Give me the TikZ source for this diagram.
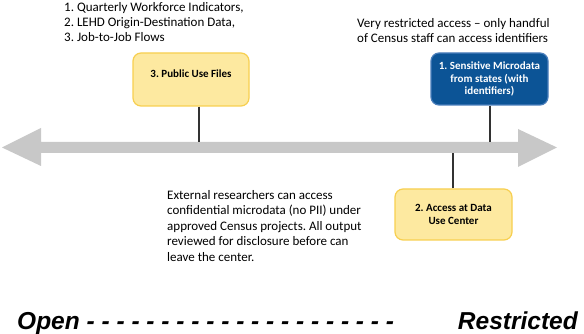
\documentclass[tikz,border=0pt]{standalone}
\usepackage{fontspec}
\setmainfont{Carlito}
\newfontfamily\scalefont{Liberation Sans}
\definecolor{paleyellow}{RGB}{253,233,160}
\definecolor{goldline}{RGB}{247,207,80}
\definecolor{deepblue}{RGB}{12,84,150}
\definecolor{blueline}{RGB}{74,126,187}
\definecolor{arrowgray}{RGB}{200,200,200}
\definecolor{linegray}{RGB}{50,50,50}
\frenchspacing
\begin{document}
\begin{tikzpicture}[x=1pt,y=1pt,
  boxbase/.style={rounded corners=8pt, line width=1.2pt, minimum width=116pt,
    minimum height=52pt, inner sep=0pt, align=center,
    font=\bfseries\fontsize{11}{12.5}\selectfont},
  pale/.style={boxbase, fill=paleyellow, draw=goldline},
  deep/.style={boxbase, fill=deepblue, draw=blueline, text=white},
  boxlabel/.style={font=\bfseries\fontsize{11}{12.5}\selectfont, align=center, inner sep=0pt},
  note/.style={font=\fontsize{13}{15}\selectfont, align=left, anchor=north west, inner sep=0pt},
  link/.style={draw=linegray, line width=1.1pt},
  scaletext/.style={font=\scalefont\bfseries\itshape\fontsize{24.5}{28}\selectfont, inner sep=0pt}]
\useasboundingbox (0,0) rectangle (584,334);

% double-headed scale arrow
\fill[arrowgray] (2,186.5) -- (41,206) -- (41,192) -- (518,192) -- (518,205)
  -- (557,186.5) -- (518,167) -- (518,181) -- (41,181) -- (41,168) -- cycle;
\coordinate (pubjoin) at (199,192);
\coordinate (sensjoin) at (490,192);
\coordinate (accjoin) at (453,181);

% boxes
\node[pale, minimum width=116pt, minimum height=53pt] (pub) at (191,254.5) {};
\node[boxlabel] (publabel) at (191,260) {3. Public Use Files};
\node[deep, minimum width=117pt, minimum height=52pt] (sens) at (489.5,255)
  {1. Sensitive Microdata\\from states (with\\identifiers)};
\node[pale, minimum width=117pt, minimum height=51pt] (acc) at (453.5,119.5)
  {2. Access at Data\\Use Center};

% connectors to the scale
\draw[link] (pub.south -| pubjoin) -- (pubjoin);
\draw[link] (sens.south -| sensjoin) -- (sensjoin);
\draw[link] (acc.north -| accjoin) -- (accjoin);

% notes
\node[note] (pubnote) at (64,332)
  {1. Quarterly Workforce Indicators,\\2. LEHD Origin-Destination Data,\\3. Job-to-Job Flows};
\node[note] (sensnote) at (357,316)
  {Very restricted access – only handful\\of Census staff can access identifiers};
\node[note, font=\fontsize{13}{15.5}\selectfont] (accnote) at (167,144)
  {External researchers can access\\confidential microdata (no PII) under\\approved Census projects. All output\\reviewed for disclosure before can\\leave the center.};

% scale ends
\node[scaletext, anchor=base west] (open) at (17,4)
  {Open - - - - - - - - - - - - - - - - - - - - -};
\node[scaletext, anchor=base east] (restricted) at (578,4) {Restricted};
\end{tikzpicture}
\end{document}
